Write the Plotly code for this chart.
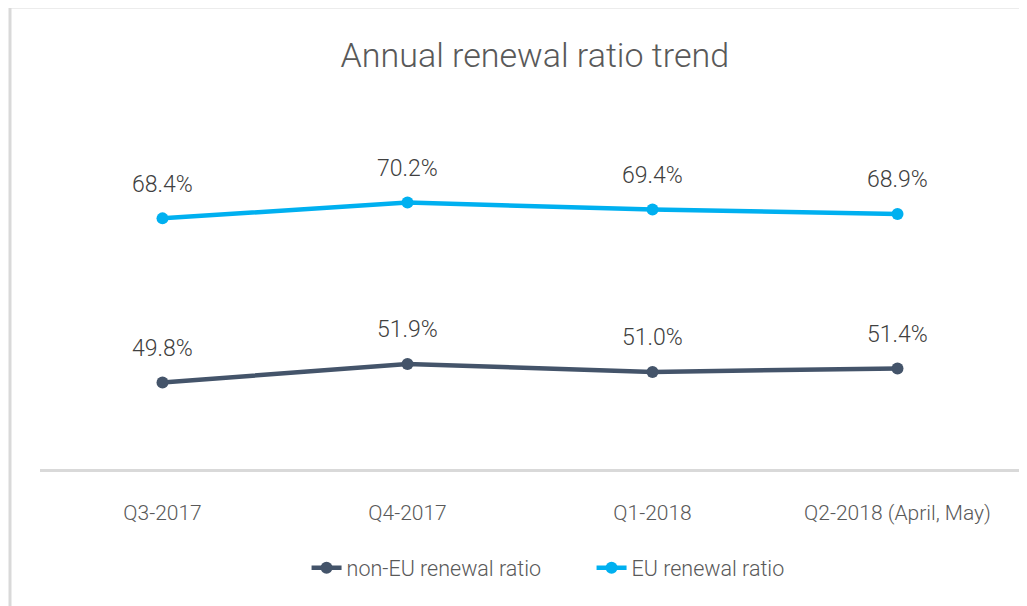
import plotly.graph_objects as go

categories = ["Q3-2017", "Q4-2017", "Q1-2018", "Q2-2018 (April, May)"]
non_eu = [49.8, 51.9, 51.0, 51.4]
eu = [68.4, 70.2, 69.4, 68.9]
series_names = ["non-EU renewal ratio", "EU renewal ratio"]
colors = ["#44546A", "#00B0F0"]

FONT = "Roboto, Open Sans, sans-serif"
TXT = "#595959"

fig = go.Figure()
for name, vals, col in zip(series_names, [non_eu, eu], colors):
    fig.add_trace(go.Scatter(
        x=categories, y=vals, name=name, mode="lines+markers",
        line=dict(color=col, width=4.5),
        marker=dict(color=col, size=12),
    ))
    for c, v in zip(categories, vals):
        fig.add_annotation(x=c, y=v, text=f"{v:.1f}%", showarrow=False,
                           yshift=34, font=dict(size=23, color="#404040", family=FONT, weight=300))

fig.update_layout(
    width=1027, height=606,
    margin=dict(l=32, r=15, t=108, b=145),
    paper_bgcolor="white", plot_bgcolor="white",
    title=dict(text="Annual renewal ratio trend", x=0.513, xanchor="center",
               y=0.922, yanchor="middle",
               font=dict(size=34, color=TXT, family=FONT, weight=300)),
    showlegend=True,
    legend=dict(orientation="h", x=0.272, xanchor="left", y=-0.28, yanchor="middle",
                entrywidth=240, entrywidthmode="pixels",
                font=dict(size=21.5, color=TXT, family=FONT, weight=300)),
    xaxis=dict(type="category", range=[-0.5, 3.5], showgrid=False, zeroline=False,
               showline=True, linecolor="#D9D9D9", linewidth=3,
               ticks="", ticklabelstandoff=23,
               tickfont=dict(size=21, color=TXT, family=FONT, weight=300)),
    yaxis=dict(range=[40, 80], showgrid=False, zeroline=False, showline=False,
               showticklabels=False),
    shapes=[
        dict(type="line", xref="paper", yref="paper", x0=-0.0306, x1=1.2, y0=1.3086, y1=1.3086,
             line=dict(color="#D9D9D9", width=3)),
        dict(type="line", xref="paper", yref="paper", x0=-0.0306, x1=-0.0306, y0=1.3086, y1=-0.5,
             line=dict(color="#D9D9D9", width=3)),
    ],
)

fig.write_html("out.html")
